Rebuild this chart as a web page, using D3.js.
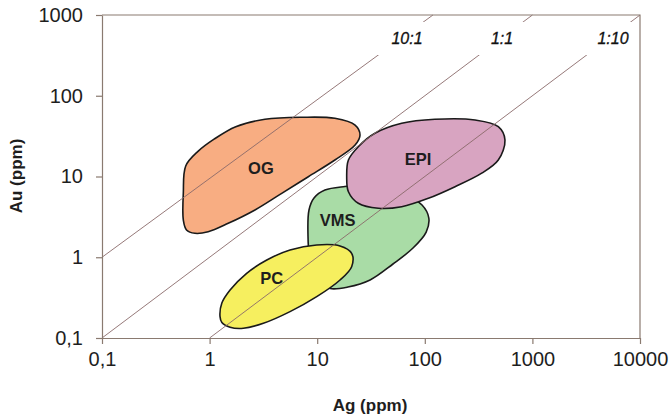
<!DOCTYPE html>
<html>
<head>
<meta charset="utf-8">
<script src="https://cdn.jsdelivr.net/npm/d3@7"></script>
<style>
  html, body { margin: 0; padding: 0; background: #ffffff; }
  svg { display: block; }
</style>
</head>
<body>
<svg id="chart" width="671" height="414"></svg>
<script>
// ---------------- data ----------------
const xTicks = [0.1, 1, 10, 100, 1000, 10000];
const xTickLabels = ["0,1", "1", "10", "100", "1000", "10000"];
const yTicks = [0.1, 1, 10, 100, 1000];
const yTickLabels = ["0,1", "1", "10", "100", "1000"];

// Ratio lines Au:Ag (endpoints in data units, Ag, Au)
const ratioNames = ["10:1", "1:1", "1:10"];
const ratioStart = [[0.1, 1], [0.1, 0.1], [1, 0.1]];
const ratioEnd = [[119, 1000], [1000, 1000], [10000, 1000]];
const ratioLabelAt = [[68.3, 519], [522, 519], [5610, 519]];

// Field outlines [Ag ppm, Au ppm]
const fieldNames = ["VMS", "PC", "EPI", "OG"];
const vmsOutline = [
  [11.8, 6.80], [18.1, 7.52], [31.0, 7.85], [65.5, 5.90], [94.2, 4.44], [109, 3.06],
  [103, 2.05], [77.7, 1.30], [50.6, 0.825], [31.0, 0.523], [19.3, 0.428], [13.2, 0.410],
  [10.2, 0.494], [8.57, 0.925], [8.21, 1.89], [8.39, 3.85], [9.34, 5.42]
];
const pcOutline = [
  [1.25, 0.184], [1.30, 0.271], [1.55, 0.393], [2.21, 0.633], [3.40, 0.925], [5.59, 1.23],
  [9.90, 1.42], [16.3, 1.38], [20.9, 1.12], [20.9, 0.764], [16.3, 0.523], [9.90, 0.325],
  [5.59, 0.212], [3.16, 0.152], [2.06, 0.132], [1.55, 0.136], [1.30, 0.156]
];
const epiOutline = [
  [18.8, 9.94], [19.5, 16.0], [24.1, 23.4], [34.4, 34.3], [61.0, 45.6], [124, 51.1],
  [293, 50.1], [482, 41.4], [556, 28.3], [482, 16.0], [338, 11.0], [191, 7.48],
  [108, 5.37], [61.0, 4.23], [37.0, 4.04], [24.1, 4.66], [19.5, 6.48]
];
const ogOutline = [
  [0.60, 13.5], [0.78, 20.5], [1.10, 29.0], [1.75, 41.4], [3.27, 51.1], [7.18, 54.1],
  [14.6, 52.6], [22.5, 43.4], [25.0, 32.7], [22.5, 24.5], [14.6, 16.0], [8.27, 9.94],
  [4.68, 6.19], [2.64, 3.85], [1.49, 2.63], [0.97, 2.07], [0.73, 1.98], [0.61, 2.18],
  [0.57, 2.89], [0.57, 6.25]
];
const fieldOutlines = [vmsOutline, pcOutline, epiOutline, ogOutline];
const fieldColors = ["#a9dca6", "#f6ef5f", "#d8a4c1", "#f8ad82"];
const fieldLabelAt = [[15.5, 2.84], [3.78, 0.553], [86.5, 16.5], [3.0, 12.7]];

// ---------------- chart ----------------
const svg = d3.select("#chart");
const W = 671, H = 414;
const mLeft = 102, mRight = 640, mTop = 15, mBottom = 338;
const axisColor = "#8a7a70";
const textColor = "#1e1e1e";
const font = "'Liberation Sans', Arial, sans-serif";

const x = d3.scaleLog().domain([0.1, 10000]).range([mLeft, mRight]);
const y = d3.scaleLog().domain([0.1, 1000]).range([mBottom, mTop]);

svg.append("rect").attr("width", W).attr("height", H).attr("fill", "#ffffff");

// Fields
const blob = d3.line()
  .x(d => x(d[0]))
  .y(d => y(d[1]))
  .curve(d3.curveCatmullRomClosed.alpha(0.5));

svg.append("g").selectAll("path")
  .data(fieldOutlines)
  .join("path")
  .attr("d", d => blob(d))
  .attr("fill", (d, i) => fieldColors[i])
  .attr("stroke", "#1a1a1a")
  .attr("stroke-width", 1.6)
  .attr("stroke-linejoin", "round");

// Ratio lines
svg.append("g").selectAll("line")
  .data(ratioNames)
  .join("line")
  .attr("x1", (d, i) => x(ratioStart[i][0]))
  .attr("y1", (d, i) => y(ratioStart[i][1]))
  .attr("x2", (d, i) => x(ratioEnd[i][0]))
  .attr("y2", (d, i) => y(ratioEnd[i][1]))
  .attr("stroke", "#8a6a6a")
  .attr("stroke-width", 0.9);

// Ratio label boxes (white) and labels
const rl = svg.append("g");
rl.selectAll("rect")
  .data(ratioNames)
  .join("rect")
  .attr("x", (d, i) => x(ratioLabelAt[i][0]) - 34)
  .attr("y", (d, i) => y(ratioLabelAt[i][1]) - 16)
  .attr("width", 68)
  .attr("height", 33)
  .attr("fill", "#ffffff");
rl.selectAll("text")
  .data(ratioNames)
  .join("text")
  .attr("x", (d, i) => x(ratioLabelAt[i][0]))
  .attr("y", (d, i) => y(ratioLabelAt[i][1]))
  .attr("dy", "0.35em")
  .attr("text-anchor", "middle")
  .attr("font-family", font)
  .attr("font-style", "italic")
  .attr("font-size", 16)
  .attr("fill", "#111")
  .attr("stroke", "#111")
  .attr("stroke-width", 0.3)
  .text(d => d);

// Field labels
svg.append("g").selectAll("text")
  .data(fieldNames)
  .join("text")
  .attr("x", (d, i) => x(fieldLabelAt[i][0]))
  .attr("y", (d, i) => y(fieldLabelAt[i][1]))
  .attr("dy", "0.35em")
  .attr("text-anchor", "middle")
  .attr("font-family", font)
  .attr("font-weight", "bold")
  .attr("font-size", 16.5)
  .attr("fill", textColor)
  .text(d => d);

// Frame (top and right)
svg.append("path")
  .attr("d", `M${mLeft},${mTop}H${mRight}V${mBottom}`)
  .attr("fill", "none")
  .attr("stroke", axisColor)
  .attr("stroke-width", 1.2);

// Axes
const xAxis = d3.axisBottom(x)
  .tickValues(xTicks)
  .tickFormat((d, i) => xTickLabels[i])
  .tickSizeInner(6).tickSizeOuter(0).tickPadding(8);
const yAxis = d3.axisLeft(y)
  .tickValues(yTicks)
  .tickFormat((d, i) => yTickLabels[i])
  .tickSizeInner(6).tickSizeOuter(0).tickPadding(13);

const gx = svg.append("g").attr("transform", `translate(0,${mBottom})`).call(xAxis);
const gy = svg.append("g").attr("transform", `translate(${mLeft},0)`).call(yAxis);
[gx, gy].forEach(g => {
  g.select(".domain").attr("stroke", axisColor).attr("stroke-width", 1.2);
  g.selectAll(".tick line").attr("stroke", axisColor).attr("stroke-width", 1.2);
  g.selectAll(".tick text")
    .attr("font-family", font)
    .attr("font-size", 20)
    .attr("fill", textColor);
});

// Axis titles
svg.append("text")
  .attr("x", 370).attr("y", 405)
  .attr("dy", "0.35em")
  .attr("text-anchor", "middle")
  .attr("font-family", font)
  .attr("font-weight", "bold")
  .attr("font-size", 17)
  .attr("fill", textColor)
  .text("Ag (ppm)");

svg.append("text")
  .attr("transform", "translate(16,176) rotate(-90)")
  .attr("dy", "0.35em")
  .attr("text-anchor", "middle")
  .attr("font-family", font)
  .attr("font-weight", "bold")
  .attr("font-size", 17)
  .attr("fill", textColor)
  .text("Au (ppm)");
</script>
</body>
</html>
